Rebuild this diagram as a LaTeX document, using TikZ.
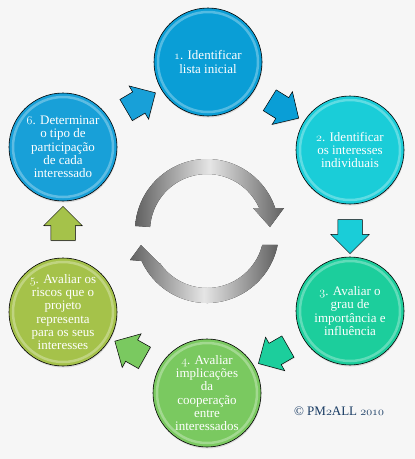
\documentclass[tikz,border=0pt]{standalone}
\usepackage{fontspec}
\setmainfont{Liberation Serif}
\usepackage{tikz}
\usetikzlibrary{shapes.arrows,shadows}
\definecolor{bgpaper}{RGB}{246,246,246}
\definecolor{colone}{RGB}{10,158,214}
\definecolor{coltwo}{RGB}{26,205,216}
\definecolor{colthree}{RGB}{28,206,156}
\definecolor{colfour}{RGB}{122,201,96}
\definecolor{colfive}{RGB}{165,194,74}
\definecolor{colsix}{RGB}{24,160,216}
\definecolor{copytext}{RGB}{23,58,98}
\newcommand\oldnum[1]{{\fontencoding{OML}\fontfamily{cmm}\fontseries{m}\fontshape{it}\selectfont #1}}
\begin{document}
\begin{tikzpicture}[x=1pt,y=-1pt,
  stagecircle/.style={circle,draw=black,line width=0.6pt,fill=#1,minimum size=108pt,inner sep=0pt,align=center,text=white,font=\fontsize{13}{13.3}\selectfont,drop shadow={opacity=0.25,shadow xshift=0.5pt,shadow yshift=-1.5pt},path picture={\draw[white,opacity=0.3,line width=2.5pt] (path picture bounding box.center) circle (50pt);}},
  passarrow/.style={single arrow,draw=black,line width=0.5pt,fill=#1,minimum height=34pt,inner xsep=0pt,inner ysep=12pt,single arrow head extend=7pt,sloped,allow upside down,drop shadow={opacity=0.2,shadow xshift=0.5pt,shadow yshift=-1pt}},
  spin/.style={left color=black!62,right color=black!62,middle color=black!10}]
\fill[bgpaper] (0,0) rectangle (415,459);
\useasboundingbox (0,0) rectangle (415,459);
\node[stagecircle=colone] (s1) at (208,62) {\oldnum{1}. Identificar\\lista inicial};
\node[stagecircle=coltwo] (s2) at (350,150) {\oldnum{2}. Identificar\\os interesses\\individuais};
\node[stagecircle=colthree] (s3) at (350,311) {\oldnum{3}. Avaliar o\\grau de\\importância e\\influência};
\node[stagecircle=colfour] (s4) at (207,393) {\oldnum{4}. Avaliar\\implicações\\da\\cooperação\\entre\\interessados};
\node[stagecircle=colfive] (s5) at (63,312) {\oldnum{5}. Avaliar os\\riscos que o\\projeto\\representa\\para os seus\\interesses};
\node[stagecircle=colsix] (s6) at (63,147) {\oldnum{6}. Determinar\\o tipo de\\participação\\de cada\\interessado};
\path (s6) -- node[passarrow=colsix] (a61) {} (s1);
\path (s1) -- node[passarrow=colone] (a12) {} (s2);
\path (s2) -- node[passarrow=coltwo] (a23) {} (s3);
\path (s3) -- node[passarrow=colthree] (a34) {} (s4);
\path (s4) -- node[passarrow=colfour] (a45) {} (s5);
\path (s5) -- node[passarrow=colfive] (a56) {} (s6);
\coordinate (hub) at (207,231);
\fill[spin] ([shift={(hub)}]176:72pt) arc[start angle=176,end angle=18.6,radius=72pt] -- (284,208) -- (270,227) -- (253,208) -- ([shift={(hub)}]23.8:57pt) arc[start angle=23.8,end angle=176,radius=57pt] -- cycle;
\fill[spin] ([shift={(hub)}]-11.2:72pt) arc[start angle=-11.2,end angle=-155.4,radius=72pt] -- (130,260) -- (141,245) -- (160,264) -- ([shift={(hub)}]-145.9:57pt) arc[start angle=-145.9,end angle=-14.2,radius=57pt] -- cycle;
\node[text=copytext,font=\fontsize{13}{14}\selectfont] (mark) at (339,411) {© PM\oldnum{2}ALL \oldnum{2010}};
\end{tikzpicture}
\end{document}
